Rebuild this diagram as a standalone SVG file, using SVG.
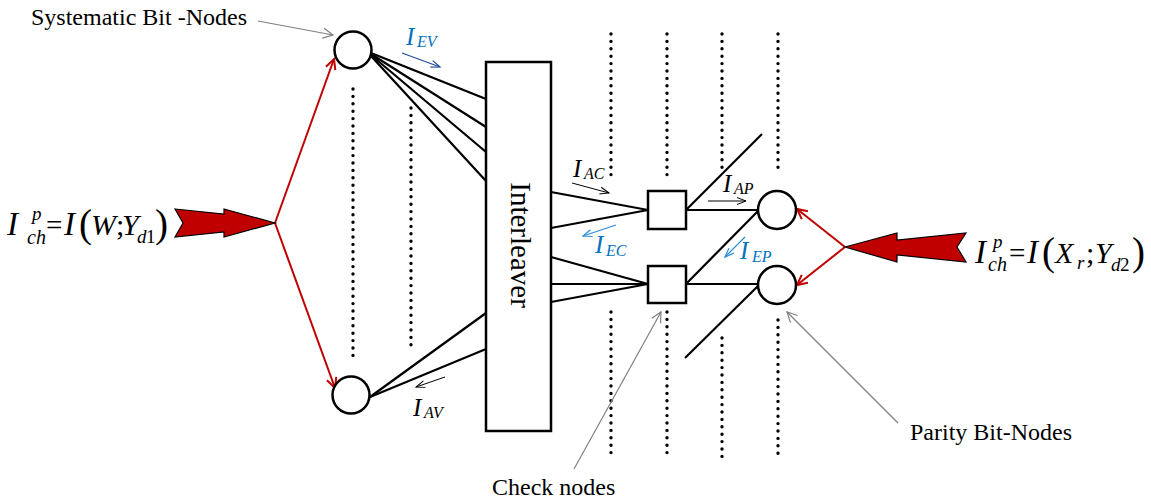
<svg xmlns="http://www.w3.org/2000/svg" width="1151" height="502" viewBox="0 0 1151 502">
  <style>
    .edge { stroke: #000; stroke-width: 2.2; fill: none; }
    .node { stroke: #000; stroke-width: 2.5; fill: #fff; }
    .dots { stroke: #000; stroke-width: 3.4; stroke-linecap: round; stroke-dasharray: 0 7.4; fill: none; }
    .red { stroke: #C00000; stroke-width: 2; fill: none; }
    .big { fill: #C00000; stroke: #000; stroke-width: 1.2; stroke-linejoin: miter; }
    .note { stroke: #808080; stroke-width: 1.2; fill: none; }
    .flow { stroke: #000; stroke-width: 1; fill: none; }
    .flowb { stroke: #1F4E9A; stroke-width: 1.2; fill: none; }
    .flowl { stroke: #2E8BD8; stroke-width: 1.2; fill: none; }
    text { font-family: "Liberation Serif", "Times New Roman", serif; fill: #000; }
    .lbl { font-size: 24px; }
    .it { font-style: italic; }
    .blue { fill: #0070C0; }
    .sub { font-size: 16px; }
  </style>
  <defs>
    <marker id="mRed" markerUnits="userSpaceOnUse" markerWidth="14" markerHeight="14" refX="11" refY="6" orient="auto">
      <path d="M1,1 L11,6 L1,11" fill="none" stroke="#C00000" stroke-width="2"/>
    </marker>
    <marker id="mGray" markerUnits="userSpaceOnUse" markerWidth="14" markerHeight="14" refX="11" refY="6" orient="auto">
      <path d="M1,1 L11,6 L1,11" fill="none" stroke="#808080" stroke-width="1.2"/>
    </marker>
    <marker id="mBlack" markerUnits="userSpaceOnUse" markerWidth="12" markerHeight="12" refX="10" refY="5" orient="auto">
      <path d="M1,1.5 L10,5 L1,8.5" fill="none" stroke="#000" stroke-width="1"/>
    </marker>
    <marker id="mDark" markerUnits="userSpaceOnUse" markerWidth="12" markerHeight="12" refX="10" refY="5" orient="auto">
      <path d="M1,1.5 L10,5 L1,8.5" fill="none" stroke="#1F4E9A" stroke-width="1.2"/>
    </marker>
    <marker id="mLight" markerUnits="userSpaceOnUse" markerWidth="12" markerHeight="12" refX="10" refY="5" orient="auto">
      <path d="M1,1.5 L10,5 L1,8.5" fill="none" stroke="#2E8BD8" stroke-width="1.2"/>
    </marker>
  </defs>

  <rect width="1151" height="502" fill="#fff"/>

  <!-- dotted columns standing for the omitted nodes -->
  <g id="ellipsis">
    <line class="dots" x1="353" y1="89" x2="353" y2="357"/>
    <line class="dots" x1="411" y1="108" x2="411" y2="346"/>
    <line class="dots" x1="611" y1="34" x2="611" y2="175"/>
    <line class="dots" x1="667" y1="34" x2="667" y2="175"/>
    <line class="dots" x1="722" y1="34" x2="722" y2="168"/>
    <line class="dots" x1="778" y1="34" x2="778" y2="168"/>
    <line class="dots" x1="611" y1="312" x2="611" y2="453"/>
    <line class="dots" x1="667" y1="312" x2="667" y2="453"/>
    <line class="dots" x1="722" y1="338" x2="722" y2="458"/>
    <line class="dots" x1="778" y1="320" x2="778" y2="454"/>
  </g>

  <!-- graph edges -->
  <g id="connectors">
    <!-- systematic bit-node to interleaver -->
    <line class="edge" x1="371" y1="53" x2="486" y2="99"/>
    <line class="edge" x1="371" y1="54" x2="486" y2="127"/>
    <line class="edge" x1="371" y1="55" x2="486" y2="152"/>
    <line class="edge" x1="371" y1="56" x2="486" y2="181"/>
    <line class="edge" x1="370" y1="397" x2="486" y2="313"/>
    <line class="edge" x1="370" y1="397" x2="486" y2="349"/>
    <!-- interleaver to check nodes -->
    <line class="edge" x1="551" y1="192" x2="648" y2="210"/>
    <line class="edge" x1="551" y1="228" x2="648" y2="210"/>
    <line class="edge" x1="551" y1="257" x2="648" y2="284"/>
    <line class="edge" x1="551" y1="284" x2="648" y2="284"/>
    <line class="edge" x1="551" y1="302" x2="648" y2="284"/>
    <!-- check nodes to parity bit-nodes (accumulator chain) -->
    <line class="edge" x1="686" y1="210" x2="758" y2="210"/>
    <line class="edge" x1="686" y1="284" x2="758" y2="284"/>
    <line class="edge" x1="686" y1="210" x2="762" y2="134"/>
    <line class="edge" x1="686" y1="284" x2="759" y2="210"/>
    <line class="edge" x1="759" y1="285" x2="685" y2="358"/>

    <!-- channel information distribution -->
    <line class="red" x1="275" y1="223" x2="334" y2="59" marker-end="url(#mRed)"/>
    <line class="red" x1="275" y1="223" x2="335" y2="388" marker-end="url(#mRed)"/>
    <line class="red" x1="845" y1="247" x2="797" y2="209" marker-end="url(#mRed)"/>
    <line class="red" x1="845" y1="247" x2="797" y2="285" marker-end="url(#mRed)"/>

    <!-- annotation pointers -->
    <line class="note" x1="258" y1="21" x2="333" y2="35" marker-end="url(#mGray)"/>
    <line class="note" x1="898" y1="423" x2="787" y2="312" marker-end="url(#mGray)"/>
    <line class="note" x1="574" y1="469" x2="661" y2="312" marker-end="url(#mGray)"/>

    <!-- mutual information flow arrows -->
    <line class="flowb" x1="402" y1="53" x2="440" y2="67" marker-end="url(#mDark)"/>
    <line class="flow" x1="445" y1="377" x2="416" y2="387" marker-end="url(#mBlack)"/>
    <line class="flow" x1="572" y1="183" x2="609" y2="193" marker-end="url(#mBlack)"/>
    <line class="flowl" x1="616" y1="225" x2="583" y2="236" marker-end="url(#mLight)"/>
    <line class="flow" x1="708" y1="201" x2="746" y2="201" marker-end="url(#mBlack)"/>
    <line class="flowl" x1="745" y1="237" x2="725" y2="257" marker-end="url(#mLight)"/>
  </g>

  <!-- channel inputs -->
  <g id="channel-left">
    <polygon class="big" points="175,209 224,214 224,209 275,223 224,237 224,232 175,237 183,223"/>
  </g>
  <g id="channel-right">
    <polygon class="big" points="845,247 897,233 897,240 966,233 957,247 966,262 897,255 897,262"/>
  </g>

  <!-- nodes -->
  <g id="sys-top"><circle class="node" cx="353" cy="50" r="18.5"/></g>
  <g id="sys-bottom"><circle class="node" cx="351" cy="395" r="18.5"/></g>
  <g id="interleaver">
    <rect class="node" x="486" y="62" width="65" height="369"/>
    <text transform="translate(511,245) rotate(90)" text-anchor="middle" font-size="29">Interleaver</text>
  </g>
  <g id="check-1"><rect class="node" x="648" y="191" width="38" height="38"/></g>
  <g id="check-2"><rect class="node" x="648" y="266" width="38" height="37"/></g>
  <g id="parity-1"><circle class="node" cx="777" cy="210" r="19"/></g>
  <g id="parity-2"><circle class="node" cx="777" cy="285" r="19"/></g>

  <!-- captions -->
  <g id="captions">
    <text class="lbl" x="31" y="25">Systematic Bit -Nodes</text>
    <text class="lbl" x="910" y="440">Parity Bit-Nodes</text>
    <text class="lbl" x="492" y="495">Check nodes</text>
  </g>

  <!-- flow labels -->
  <g id="flow-labels">
    <text class="it blue" font-size="25"><tspan x="406" y="45">I</tspan><tspan class="sub" x="417" y="47">EV</tspan></text>
    <text class="it" font-size="25"><tspan x="413" y="416">I</tspan><tspan class="sub" x="424" y="418">AV</tspan></text>
    <text class="it" font-size="25"><tspan x="573" y="177">I</tspan><tspan class="sub" x="584" y="179">AC</tspan></text>
    <text class="it blue" font-size="25"><tspan x="595" y="253">I</tspan><tspan class="sub" x="606" y="256">EC</tspan></text>
    <text class="it" font-size="25"><tspan x="723" y="192">I</tspan><tspan class="sub" x="734" y="194">AP</tspan></text>
    <text class="it blue" font-size="25"><tspan x="740" y="259">I</tspan><tspan class="sub" x="752" y="262">EP</tspan></text>
  </g>

  <!-- channel mutual information expressions -->
  <g id="eq-left">
    <text font-size="33"><tspan class="it" x="7" y="235">I</tspan><tspan class="it" x="32" y="220" font-size="19">p</tspan><tspan class="it" x="27" y="244" font-size="20">ch</tspan><tspan x="46" y="235" font-size="29">=</tspan><tspan class="it" x="64" y="235">I</tspan><tspan x="79" y="237" font-size="39">(</tspan><tspan class="it" x="91" y="235" font-size="30">W</tspan><tspan x="116" y="235" font-size="30">;</tspan><tspan class="it" x="122" y="235" font-size="30">Y</tspan><tspan class="it" x="137" y="243" font-size="19">d</tspan><tspan x="146" y="243" font-size="19">1</tspan><tspan x="155" y="237" font-size="39">)</tspan></text>
  </g>
  <g id="eq-right">
    <text font-size="33"><tspan class="it" x="975" y="263">I</tspan><tspan class="it" x="993" y="248" font-size="19">p</tspan><tspan class="it" x="988" y="271" font-size="20">ch</tspan><tspan x="1009" y="263" font-size="29">=</tspan><tspan class="it" x="1027" y="263">I</tspan><tspan x="1042" y="265" font-size="39">(</tspan><tspan class="it" x="1055" y="263" font-size="30">X</tspan><tspan class="it" x="1077" y="269" font-size="19">r</tspan><tspan x="1086" y="263" font-size="30">;</tspan><tspan class="it" x="1095" y="263" font-size="30">Y</tspan><tspan class="it" x="1111" y="271" font-size="19">d</tspan><tspan x="1120" y="271" font-size="19">2</tspan><tspan x="1132" y="265" font-size="39">)</tspan></text>
  </g>
</svg>
